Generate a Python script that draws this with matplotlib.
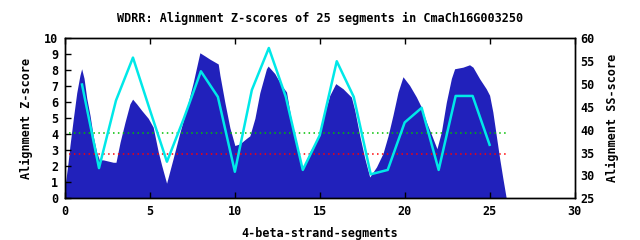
import matplotlib
matplotlib.use('Agg')
import matplotlib.pyplot as plt

# Z-score profile (filled area)
z_pos = [-0.06, -0.06, 0.06, 0.18, 0.29, 0.49, 0.69, 0.88, 0.98, 1.12, 1.28, 1.47,
         1.66, 1.86, 2.02, 2.25, 2.84, 3.0, 3.24, 3.53, 3.82, 3.98, 4.22, 4.51,
         4.9, 5.19, 5.49, 5.69, 5.98, 6.37, 6.76, 7.16, 7.55, 7.75, 7.94, 8.24,
         8.53, 9.02, 9.12, 9.41, 9.71, 10.0, 10.29, 10.69, 10.88, 11.18, 11.47,
         11.86, 11.96, 12.35, 12.75, 13.04, 13.34, 13.63, 13.92, 14.02, 14.41,
         14.9, 15.19, 15.59, 15.94, 16.37, 16.86, 17.06, 17.35, 17.65, 17.94,
         18.34, 18.72, 19.02, 19.31, 19.61, 19.9, 20.29, 20.69, 20.98, 21.28,
         21.66, 21.9, 22.16, 22.45, 22.75, 22.94, 23.43, 23.82, 24.02, 24.41,
         24.8, 25.0, 25.19, 25.39, 25.59, 25.78, 25.98]
z_val = [0.0, 0.25, 1.25, 2.25, 3.3, 5.0, 6.6, 7.7, 8.1, 7.5, 6.25, 5.2,
         3.9, 2.9, 2.4, 2.4, 2.25, 2.25, 3.5, 4.75, 5.9, 6.2, 5.9, 5.5,
         5.0, 4.45, 2.9, 2.06, 0.94, 2.5, 4.1, 5.6, 7.25, 8.2, 9.1, 8.9,
         8.7, 8.4, 7.7, 6.0, 4.4, 3.3, 3.4, 3.75, 3.9, 5.0, 6.6,
         8.1, 8.27, 7.8, 7.06, 6.65, 4.77, 3.5, 2.06, 1.9, 2.9,
         3.8, 5.0, 6.44, 7.17, 6.85, 6.33, 5.5, 3.94, 2.5, 1.33,
         1.96, 2.8, 3.9, 5.2, 6.65, 7.6, 7.06, 6.33, 5.7, 4.77,
         3.75, 3.1, 4.15, 6.0, 7.5, 8.1, 8.2, 8.35, 8.2, 7.48,
         6.85, 6.44, 5.4, 3.94, 2.5, 1.25, 0.0]

# SS-scores per segment (right axis)
segments = list(range(1, 26))
ss_scores = [49.9, 31.6, 46.4, 55.8, 44.3, 33.0, 42.5, 52.8, 47.2, 30.8,
             48.7, 57.9, 47.2, 31.2, 38.8, 55.0, 47.2, 30.25, 31.2, 41.6,
             44.8, 31.2, 47.4, 47.4, 36.7]

green_level = 4.06
red_level = 2.77
line_span = [0.25, 26]

font = {'family': 'DejaVu Sans Mono', 'weight': 'bold', 'size': 8.5}

fig = plt.figure(figsize=(6.4, 2.4), dpi=100)
ax = fig.add_axes([0.1016, 0.174, 0.7961, 0.666])

ax.fill_between(z_pos, z_val, 0, color='#2121bb', linewidth=0)
ax.plot(line_span, [green_level, green_level], color='#00c000', linestyle=(0, (1, 2.2)), lw=1.1)
ax.plot(line_span, [red_level, red_level], color='#ff0000', linestyle=(0, (1, 2.2)), lw=1.1)

ax.set_xlim(0, 30)
ax.set_ylim(0, 10)
ax.set_xticks(range(0, 31, 5))
ax.set_yticks(range(0, 11))
ax.tick_params(direction='in', length=4, width=1, top=True, right=False,
               labelsize=8.5, pad=5)
for lab in ax.get_xticklabels() + ax.get_yticklabels():
    lab.set_fontproperties(font)

ax2 = ax.twinx()
ax2.plot(segments, ss_scores, color='#00e8e8', lw=1.8)
ax2.set_ylim(25, 60)
ax2.set_yticks(range(25, 61, 5))
ax2.tick_params(direction='in', length=0, pad=4)
for lab in ax2.get_yticklabels():
    lab.set_fontproperties(font)

ax.set_xlabel('4-beta-strand-segments', fontdict=font, labelpad=6)
ax.set_ylabel('Alignment Z-score', fontdict=font, labelpad=8)
ax2.set_ylabel('Alignment SS-score', fontdict=font, labelpad=8)
fig.text(0.5, 0.925, 'WDRR: Alignment Z-scores of 25 segments in CmaCh16G003250',
         ha='center', va='center', **font)

for a in (ax, ax2):
    for s in a.spines.values():
        s.set_linewidth(1)

fig.savefig('out.png', dpi=100)
